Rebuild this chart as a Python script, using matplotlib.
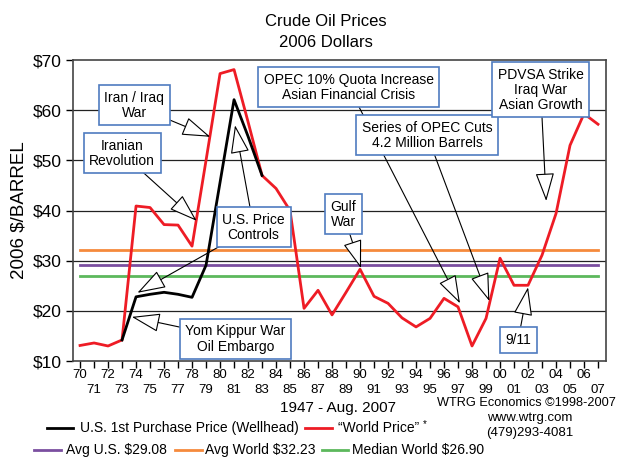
import matplotlib.pyplot as plt
from matplotlib.lines import Line2D

plt.rcParams['font.family'] = ['Liberation Sans', 'DejaVu Sans']

# world price, 2006 dollars
world_years = list(range(1970, 2008))
world_price = [13.1, 13.6, 13.0, 14.2, 40.9, 40.6, 37.2, 37.1, 32.9, 50.0,
               67.3, 68.1, 57.7, 47.0, 44.4, 40.0, 20.5, 24.1, 19.2, 23.7,
               28.3, 22.9, 21.5, 18.6, 16.8, 18.5, 22.5, 20.8, 13.0, 18.5,
               30.5, 25.1, 25.1, 31.1, 39.4, 53.0, 59.3, 57.2]

# US wellhead price
us_years = list(range(1973, 1984))
us_price = [14.2, 22.8, 23.3, 23.7, 23.3, 22.7, 29.1, 45.6, 62.1, 54.8, 47.0]

avg_us = 29.08
avg_world = 32.23
median_world = 26.90

red = '#ee1c25'
box_blue = '#4f7cc0'

fig = plt.figure(figsize=(6.19, 4.57), dpi=100)
ax = fig.add_axes([0.118, 0.210, 0.861, 0.6586])

for v in [20, 30, 40, 50, 60]:
    ax.axhline(v, color='#222222', lw=0.9, zorder=1)

ax.plot([1970, 2007], [avg_world] * 2, color='#f58a3c', lw=2, zorder=2)
ax.plot([1970, 2007], [avg_us] * 2, color='#7b4fa0', lw=2, zorder=2)
ax.plot([1970, 2007], [median_world] * 2, color='#5cb85c', lw=2, zorder=2)

ax.plot(world_years, world_price, color=red, lw=2, zorder=3)
ax.plot(us_years, us_price, color='black', lw=2, zorder=4)

ax.set_xlim(1969.5, 2007.57)
ax.set_ylim(10, 70)
ax.set_yticks(range(10, 80, 10))
ax.set_yticklabels(['$%d' % v for v in range(10, 80, 10)], fontsize=12.5)
yrs = list(range(1970, 2008))
ax.set_xticks(yrs)
ax.set_xticklabels([('%02d' % (y % 100)) if y % 2 == 0 else '\n%02d' % (y % 100)
                    for y in yrs], fontsize=9.5, linespacing=1.25)
ax.tick_params(axis='x', length=5, width=1, pad=1)
ax.tick_params(axis='y', length=5, width=1, pad=3)
for s in ax.spines.values():
    s.set_color('#444444')
    s.set_linewidth(1.2)

ax.set_ylabel('2006 $/BARREL', fontsize=13.5, labelpad=4)

fig.text(0.527, 0.952, 'Crude Oil Prices', ha='center', va='center', fontsize=12)
fig.text(0.527, 0.908, '2006 Dollars', ha='center', va='center', fontsize=12)

bbox = dict(boxstyle='square,pad=0.4', fc='white', ec=box_blue, lw=1.2)
arrow = dict(arrowstyle='-|>,head_length=1.8,head_width=0.6', fc='white',
             ec='black', lw=0.8, shrinkA=0, shrinkB=0)

notes = [
    ('Iran / Iraq\nWar', (73.86, 61.0), [(79.3, 54.7)]),
    ('Iranian\nRevolution', (73.0, 51.4), [(78.33, 37.95)]),
    ('U.S. Price\nControls', (82.4, 36.7), [(81.07, 57.0), (74.1, 23.6)]),
    ('Yom Kippur War\nOil Embargo', (81.1, 14.4), [(73.7, 18.8)]),
    ('OPEC 10% Quota Increase\nAsian Financial Crisis', (89.2, 64.6), [(97.14, 21.5)]),
    ('Series of OPEC Cuts\n4.2 Million Barrels', (94.8, 55.0), [(99.24, 21.95)]),
    ('PDVSA Strike\nIraq War\nAsian Growth', (102.9, 64.1), [(103.3, 41.9)]),
    ('Gulf\nWar', (88.8, 39.3), [(90.07, 28.5)]),
    ('9/11', (101.3, 14.2), [(102.0, 24.7)]),
]
for text, (tx, ty), tips in notes:
    for px, py in tips:
        ax.annotate('', xy=(1900 + px, py), xytext=(1900 + tx, ty),
                    arrowprops=arrow, zorder=5)
    ax.text(1900 + tx, ty, text, ha='center', va='center', fontsize=10,
            linespacing=1.1, bbox=bbox, zorder=6)

fig.text(338 / 619, 1 - 408 / 457, '1947 - Aug. 2007', ha='center', va='center', fontsize=11)
fig.text(616 / 619, 1 - 403 / 457, 'WTRG Economics \u00a91998-2007', ha='right', va='center', fontsize=9.2)
fig.text(530 / 619, 1 - 418 / 457, 'www.wtrg.com', ha='center', va='center', fontsize=9.5)
fig.text(530 / 619, 1 - 433 / 457, '(479)293-4081', ha='center', va='center', fontsize=9.5)

def legend_item(x0, x1, tx, ypix, color, label):
    y = 1 - ypix / 457
    fig.add_artist(Line2D([x0 / 619, x1 / 619], [y, y], color=color, lw=2))
    return fig.text(tx / 619, y, label, ha='left', va='center', fontsize=10)

legend_item(47, 73, 80, 428, 'black', 'U.S. 1st Purchase Price (Wellhead)')
legend_item(305, 332, 338, 428, red, '\u201cWorld Price\u201d')
fig.text(425 / 619, 1 - 424 / 457, '*', ha='center', va='center', fontsize=7)
legend_item(34, 61, 66, 450, '#7b4fa0', 'Avg U.S. $29.08')
legend_item(175, 202, 205, 450, '#f58a3c', 'Avg World $32.23')
legend_item(322, 348, 352, 450, '#5cb85c', 'Median World $26.90')

fig.savefig('out.png', dpi=100)
